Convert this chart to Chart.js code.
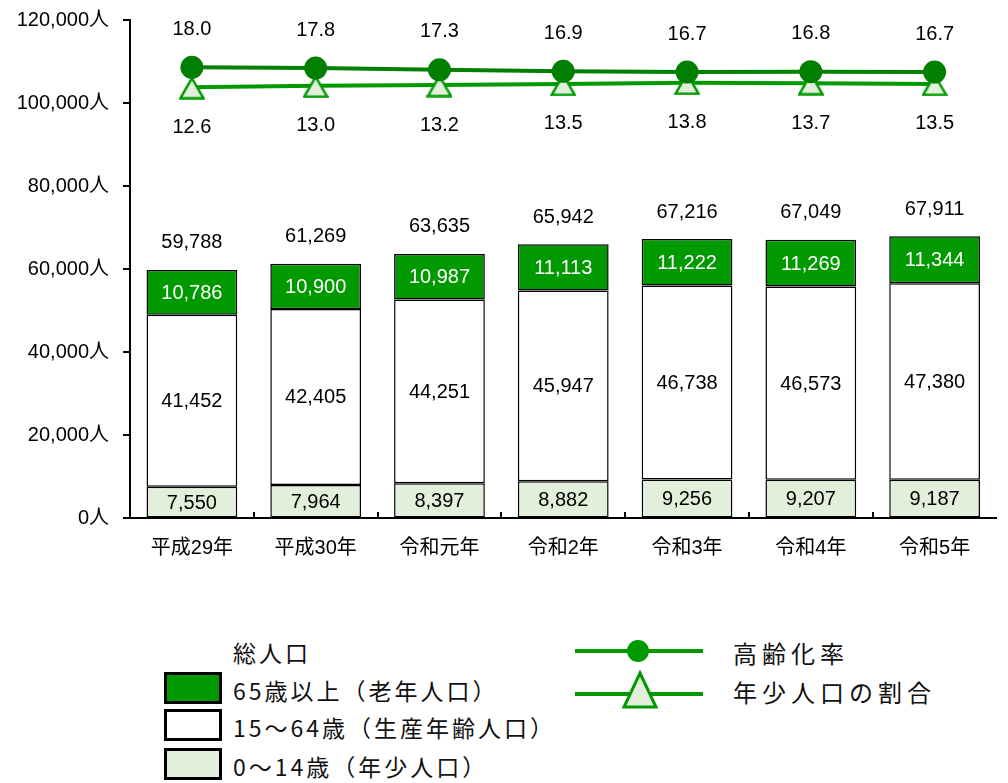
<!DOCTYPE html>
<html>
<head>
<meta charset="utf-8">
<script src="https://cdn.jsdelivr.net/npm/chart.js@4/dist/chart.umd.min.js"></script>
<style>
  body { margin: 0; background: #fff; width: 1008px; height: 783px; overflow: hidden; position: relative;
         font-family: 'Noto Sans CJK JP', sans-serif; color: #111; }
  #chart { position: absolute; left: 0; top: 0; }
  .lg { position: absolute; font-size: 23px; letter-spacing: 3px; line-height: 1; white-space: nowrap; }
  .lg2 { position: absolute; font-size: 24px; letter-spacing: 5px; line-height: 1; white-space: nowrap; }
  .box { position: absolute; left: 164px; width: 52px; height: 26px; border: 3px solid #000; }
  svg { position: absolute; left: 570px; top: 625px; }
</style>
</head>
<body>
<canvas id="chart" width="1008" height="575"></canvas>

<div class="lg" style="left:233px;top:641px">総人口</div>
<div class="box" style="top:672px;background:#009900"></div>
<div class="lg" style="left:233px;top:679px">65歳以上（老年人口）</div>
<div class="box" style="top:709px;background:#fff"></div>
<div class="lg" style="left:233px;top:716px">15～64歳（生産年齢人口）</div>
<div class="box" style="top:748px;background:#e2efda"></div>
<div class="lg" style="left:233px;top:755px">0～14歳（年少人口）</div>

<svg width="140" height="90">
  <line x1="5" y1="26" x2="133" y2="26" stroke="#009900" stroke-width="4"/>
  <circle cx="68" cy="26" r="11" fill="#009900"/>
  <line x1="5" y1="69" x2="133" y2="69" stroke="#009900" stroke-width="4"/>
  <polygon points="70,48 86,82 54,82" fill="#e2efda" stroke="#009900" stroke-width="3"/>
</svg>
<div class="lg2" style="left:733px;top:641px">高齢化率</div>
<div class="lg2" style="left:733px;top:680px">年少人口の割合</div>

<script>
// データ
var categories = ['平成29年', '平成30年', '令和元年', '令和2年', '令和3年', '令和4年', '令和5年'];
var age0to14 = [7550, 7964, 8397, 8882, 9256, 9207, 9187];
var age15to64 = [41452, 42405, 44251, 45947, 46738, 46573, 47380];
var age65plus = [10786, 10900, 10987, 11113, 11222, 11269, 11344];
var agingRate = [18.0, 17.8, 17.3, 16.9, 16.7, 16.8, 16.7];
var youthRate = [12.6, 13.0, 13.2, 13.5, 13.8, 13.7, 13.5];
var yTickStep = 20000;
var yMax = 120000;

var FONT = '"Liberation Sans", "Noto Sans CJK JP", sans-serif';

function fmt(v) { return v.toLocaleString('en-US'); }

// 三角マーカー（外接矩形の中心で配置）
var tri = document.createElement('canvas');
tri.width = 26; tri.height = 25;
(function () {
    var c = tri.getContext('2d');
    c.beginPath();
    c.moveTo(13, 3.5); c.lineTo(24.5, 23.5); c.lineTo(1.5, 23.5); c.closePath();
    c.fillStyle = '#e2efda'; c.fill();
    c.lineWidth = 2.5; c.strokeStyle = '#009900'; c.stroke();
})();

var labelPlugin = {
    id: 'valueLabels',
    afterDatasetsDraw: function (chart) {
        var ctx = chart.ctx;
        var area = chart.chartArea;
        var ys = chart.scales.y;
        ctx.save();
        ctx.strokeStyle = '#000'; ctx.lineWidth = 2;
        // x軸の内向き目盛
        var w = (area.right - area.left) / categories.length;
        for (var k = 1; k < categories.length; k++) {
            var x = Math.round(area.left + w * k);
            ctx.beginPath(); ctx.moveTo(x, area.bottom - 6); ctx.lineTo(x, area.bottom); ctx.stroke();
        }
        // y軸の外向き目盛
        ys.ticks.forEach(function (t) {
            var y = Math.round(ys.getPixelForValue(t.value));
            ctx.beginPath(); ctx.moveTo(area.left - 7, y); ctx.lineTo(area.left, y); ctx.stroke();
        });
        ctx.font = '20px ' + FONT;
        ctx.textAlign = 'center'; ctx.textBaseline = 'middle';
        [0, 1, 2].forEach(function (di) {
            chart.getDatasetMeta(di).data.forEach(function (bar, i) {
                ctx.fillStyle = di === 2 ? '#fff' : '#000';
                ctx.fillText(fmt(chart.data.datasets[di].data[i]), bar.x, (bar.y + bar.base) / 2 + 1);
            });
        });
        ctx.fillStyle = '#000';
        chart.getDatasetMeta(2).data.forEach(function (bar, i) {
            ctx.fillText(fmt(age0to14[i] + age15to64[i] + age65plus[i]), bar.x, bar.y - 27);
        });
        chart.getDatasetMeta(3).data.forEach(function (p, i) {
            ctx.fillText(agingRate[i].toFixed(1), p.x, p.y - 38);
        });
        chart.getDatasetMeta(4).data.forEach(function (p, i) {
            ctx.fillText(youthRate[i].toFixed(1), p.x, p.y + 40);
        });
        ctx.restore();
    }
};

var barStyle = { borderColor: '#000', borderWidth: 1.5, borderSkipped: false, stack: 'pop',
                 barPercentage: 0.733, categoryPercentage: 1, order: 2 };

new Chart(document.getElementById('chart'), {
    type: 'bar',
    data: {
        labels: categories,
        datasets: [
            Object.assign({ label: '0～14歳（年少人口）', data: age0to14, backgroundColor: '#e2efda' }, barStyle),
            Object.assign({ label: '15～64歳（生産年齢人口）', data: age15to64, backgroundColor: '#ffffff' }, barStyle),
            Object.assign({ label: '65歳以上（老年人口）', data: age65plus, backgroundColor: '#009900' }, barStyle),
            {
                type: 'line', label: '高齢化率', data: agingRate, yAxisID: 'y2', order: 0,
                borderColor: '#008000', borderWidth: 4, pointRadius: 11.5, pointHoverRadius: 11.5,
                pointBackgroundColor: '#007f00', pointBorderColor: '#007f00', pointBorderWidth: 0
            },
            {
                type: 'line', label: '年少人口の割合', data: youthRate, yAxisID: 'y2', order: 1,
                borderColor: '#009900', borderWidth: 4, pointStyle: tri
            }
        ]
    },
    options: {
        responsive: false,
        animation: false,
        layout: { padding: { top: 20, right: -6, left: 1, bottom: 0 } },
        plugins: { legend: { display: false }, tooltip: { enabled: false } },
        scales: {
            x: {
                stacked: true,
                grid: { drawOnChartArea: false, color: 'rgba(0,0,0,0)', tickLength: 17 },
                border: { color: '#000', width: 2 },
                ticks: { color: '#000', font: { size: 20, family: FONT }, padding: 1 },
                afterFit: function (s) { s.height = 57; s.paddingLeft = 0; s.paddingRight = 0; }
            },
            y: {
                stacked: true, min: 0, max: yMax,
                grid: { drawOnChartArea: false, color: 'rgba(0,0,0,0)', tickLength: 20 },
                border: { color: '#000', width: 2 },
                ticks: { stepSize: yTickStep, color: '#000', font: { size: 20, family: FONT }, padding: 1,
                         callback: function (v) { return fmt(v) + '人'; } },
                afterFit: function (s) { s.width = 129; }
            },
            y2: { display: false, min: -104, max: 30.8 }
        }
    },
    plugins: [labelPlugin]
});
</script>
</body>
</html>
